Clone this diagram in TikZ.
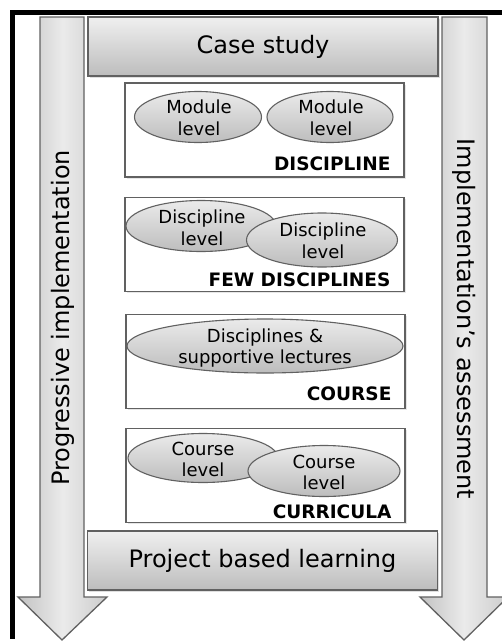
\documentclass[tikz,border=0pt]{standalone}
\usepackage{fontspec}
\setmainfont{DejaVu Sans}
\usetikzlibrary{shapes.geometric,shadows}

\tikzset{
  edge/.style={draw=black!62, line width=1.3pt},
  bigarrow/.style={edge, left color=black!24, right color=black!20, middle color=black!8},
  bar/.style={edge, top color=black!6, bottom color=black!26, minimum width=350pt,
    minimum height=59pt, font=\fontsize{24}{28}\selectfont,
    drop shadow={opacity=0.25, shadow xshift=1.5pt, shadow yshift=-1.5pt}},
  levelbox/.style={edge, fill=white, minimum width=279pt, minimum height=94pt,
    drop shadow={opacity=0.2, shadow xshift=1.5pt, shadow yshift=-1.5pt}},
  lvl/.style={edge, line width=1.1pt, top color=black!8, bottom color=black!26},
  lvltxt/.style={align=center, inner sep=0pt, font=\fontsize{18}{21.5}\selectfont},
  tag/.style={anchor=base east, inner sep=0pt, font=\fontsize{18.5}{22}\bfseries\selectfont},
  side/.style={font=\fontsize{24}{28}\selectfont, inner sep=0pt}
}

\begin{document}
\begin{tikzpicture}[x=1pt, y=-1pt]
  \useasboundingbox (0,0) rectangle (502,643);
  % Rahmen oben und links
  \fill[black] (10,10) rectangle (502,15);
  \fill[black] (10,10) rectangle (15,639);

  % Pfeile
  \draw[bigarrow] (40,17) -- (84,17) -- (84,597) -- (107,597) -- (62,640)
    -- (18,597) -- (40,597) -- cycle;
  \draw[bigarrow] (442,17) -- (487,17) -- (487,597) -- (508,597) -- (464,640)
    -- (420,597) -- (442,597) -- cycle;
  \node[side, rotate=90] (prog) at (63,318) {Progressive implementation};
  \node[side, rotate=-90] (assess) at (464,319) {Implementation’s assessment};

  % Case study / Project based learning
  \node[bar] (case) at (263,46.5) {Case study};
  \node[bar] (pbl) at (262.5,560.5) {Project based learning};

  % DISCIPLINE
  \node[levelbox] (discipline) at (264.5,130) {};
  \path[lvl] (198,117) ellipse (63.5 and 25.5);
  \node[lvltxt] (modA) at (199,118) {Module\\level};
  \path[lvl] (330,117) ellipse (63 and 25.5);
  \node[lvltxt] (modB) at (331,118) {Module\\level};
  \node[tag] (tagA) at ([xshift=-14pt, yshift=7pt]discipline.south east) {DISCIPLINE};

  % FEW DISCIPLINES
  \node[levelbox] (few) at (264.5,244.5) {};
  \path[lvl] (201,226) ellipse (75 and 25.5);
  \node[lvltxt] (discA) at (202,228) {Discipline\\level};
  \path[lvl] (322,240) ellipse (75.5 and 27);
  \node[lvltxt] (discB) at (323,241) {Discipline\\level};
  \node[tag] (tagB) at ([xshift=-14pt, yshift=6pt]few.south east) {FEW DISCIPLINES};

  % COURSE
  \node[levelbox] (course) at (265.5,361.5) {};
  \path[lvl] (265,346) ellipse (138 and 27);
  \node[lvltxt] (lect) at (265,348) {Disciplines \&\\supportive lectures};
  \node[tag] (tagC) at ([xshift=-14pt, yshift=9pt]course.south east) {COURSE};

  % CURRICULA
  \node[levelbox] (curricula) at (265.5,475.5) {};
  \path[lvl] (203,458) ellipse (75 and 24.5);
  \node[lvltxt] (crsA) at (203,459.5) {Course\\level};
  \path[lvl] (324,471) ellipse (76 and 25.5);
  \node[lvltxt] (crsB) at (324,472.5) {Course\\level};
  \node[tag] (tagD) at ([xshift=-14pt, yshift=5pt]curricula.south east) {CURRICULA};
\end{tikzpicture}
\end{document}
